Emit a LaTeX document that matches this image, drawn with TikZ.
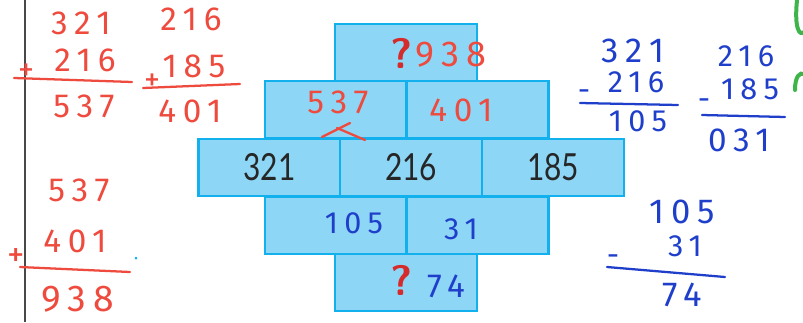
\documentclass[tikz,border=0pt]{standalone}
\usepackage{fontspec}
\usetikzlibrary{positioning}
\newfontfamily\blockfont[FakeStretch=0.8]{Lato}
\newfontfamily\handfont[LetterSpace=20]{Fira Sans}
\definecolor{brickfill}{HTML}{8DD6F6}
\definecolor{brickline}{HTML}{12B0EC}
\definecolor{inkred}{HTML}{EE4B3E}
\definecolor{qred}{HTML}{D52B2B}
\definecolor{inkblue}{HTML}{1F3FCB}
\definecolor{inkgreen}{HTML}{3DB54A}
\definecolor{marginline}{HTML}{484848}

\begin{document}
\begin{tikzpicture}[x=0.75pt,y=-0.75pt,
  brick/.style={draw=brickline,fill=brickfill,line width=2pt,minimum width=106.5pt,
    minimum height=42.75pt,inner sep=0pt,text=black!85,font=\blockfont\fontsize{28}{28}\selectfont},
  redink/.style={text=inkred,inner sep=0pt,font=\handfont\fontsize{25}{25}\selectfont},
  blueink/.style={text=inkblue,inner sep=0pt,font=\handfont\fontsize{23}{23}\selectfont},
  qmark/.style={text=qred,inner sep=0pt,font=\sffamily\bfseries\fontsize{32}{32}\selectfont},
  sumline/.style={line width=1.7pt,line cap=round}]
\useasboundingbox (0,0) rectangle (803,322);

% margin line of the sheet
\draw[marginline,line width=2.2pt] (25,0) -- (25,322);

% the number wall, one row after the other
\node[brick] (top) at (406,52.5) {};
\node[brick] (sumL) at (336,109.5) {};
\node[brick] (sumR) at (477.5,109.5) {};
\node[brick] (base1) at (269.5,167.5) {321};
\node[brick] (base2) at (411,167.5) {216};
\node[brick] (base3) at (553,167.5) {185};
\node[brick] (diffL) at (336,225.5) {};
\node[brick] (diffR) at (477.5,225.5) {};
\node[brick] (bot) at (406,282.5) {};

% answers written into the bricks
\node[qmark] (qtop) at (402,53) {?};
\node[redink,font=\handfont\fontsize{27}{27}\selectfont] (wtop) at (451,55) {938};
\node[redink] (wsumL) at (338,102) {537};
\node[redink] (wsumR) at (461,110) {401};
\node[blueink] (wdiffL) at (354,223) {105};
\node[blueink] (wdiffR) at (461,229) {31};
\node[qmark] (qbot) at (402,280) {?};
\node[blueink,font=\handfont\fontsize{25}{25}\selectfont] (wbot) at (446,286) {74};
\draw[inkred,sumline] (322,137) -- (350,123);
\draw[inkred,sumline] (337,128) -- (365,140);

% additions on the left
\node[redink] (a1) at (81,23) {321};
\node[redink] (a2) at (191,19) {216};
\node[redink] (a3) at (85,60) {216};
\node[redink,font=\handfont\fontsize{24}{24}\selectfont] (p1) at (26,72) {+};
\draw[inkred,sumline] (14,78) -- (132,82);
\node[redink] (a4) at (84,106) {537};
\node[redink] (a5) at (194,66) {185};
\node[redink,font=\handfont\fontsize{24}{24}\selectfont] (p2) at (152,82) {+};
\draw[inkred,sumline] (143,88) -- (240,84);
\node[redink] (a6) at (190,111) {401};

\node[redink] (b1) at (79,190) {537};
\node[redink] (b2) at (75,241) {401};
\node[redink,font=\handfont\fontsize{26}{26}\selectfont] (p3) at (16,257) {+};
\draw[inkred,sumline] (20,267) -- (130,272);
\node[redink,font=\handfont\fontsize{28}{28}\selectfont] (b3) at (78,299) {938};
\fill[brickline] (136,258) circle (1.5);

% subtractions on the right
\node[blueink,font=\handfont\fontsize{26}{26}\selectfont] (s1) at (633,51) {321};
\node[blueink] (s2) at (746,56) {216};
\node[blueink] (s3) at (636,82) {216};
\node[blueink] (m1) at (584,95) {-};
\draw[inkblue,sumline] (580,103) -- (678,105);
\node[blueink] (s4) at (638,121) {105};
\node[blueink] (s5) at (750,89) {185};
\node[blueink] (m2) at (704,104) {-};
\draw[inkblue,sumline] (702,115) -- (785,117);
\node[blueink,font=\handfont\fontsize{25}{25}\selectfont] (s6) at (739,140) {031};

\node[blueink,font=\handfont\fontsize{26}{26}\selectfont] (t1) at (682,212) {105};
\node[blueink] (t2) at (685,246) {31};
\node[blueink] (m3) at (613,260) {-};
\draw[inkblue,sumline] (607,267) -- (725,277);
\node[blueink,font=\handfont\fontsize{26}{26}\selectfont] (t3) at (682,295) {74};

% green strokes cut off at the right edge
\draw[inkgreen,line width=3pt,line cap=round] (797,0) .. controls (794,30) and (800,36) .. (804,32);
\draw[inkgreen,line width=3pt,line cap=round] (795,90) .. controls (795,76) and (800,72) .. (804,74);
\end{tikzpicture}
\end{document}
